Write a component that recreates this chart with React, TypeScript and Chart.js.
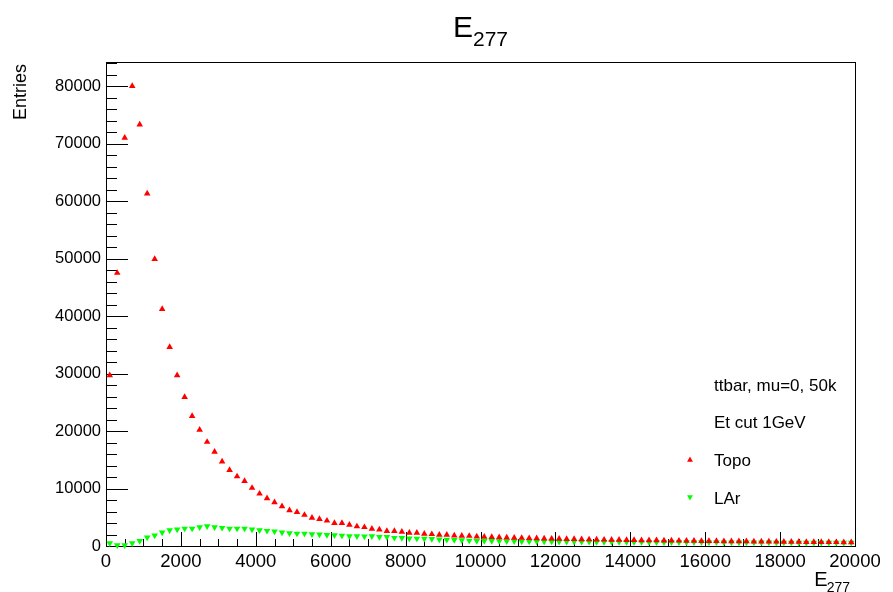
import { useEffect, useRef } from "react";
import { Chart, registerables } from "chart.js";

Chart.register(...registerables);

// ---- data ----
const BIN_WIDTH = 200;
const X_MIN = 0;
const X_MAX = 20000;
const Y_MAX = 84200;

const topoCounts = [
  29700, 47500, 71000, 80000, 73300, 61300, 49900, 41200, 34600, 29700,
  25900, 22600, 20200, 18100, 16400, 14700, 13200, 12100, 11300, 10100,
  9100, 8300, 7600, 6900, 6200, 5900, 5400, 4900, 4700, 4400,
  4000, 4000, 3700, 3400, 3270, 3000, 2870, 2600, 2600, 2470,
  2300, 2300, 2120, 2050, 1950, 1950, 1800, 1770, 1750, 1650,
  1600, 1560, 1500, 1480, 1430, 1400, 1360, 1330, 1300, 1270,
  1240, 1210, 1190, 1160, 1140, 1120, 1100, 1080, 1060, 1040,
  1020, 1000, 990, 970, 950, 940, 920, 900, 890, 870,
  860, 850, 830, 820, 810, 800, 780, 770, 760, 750,
  740, 720, 710, 700, 690, 680, 670, 660, 650, 640,
];

const larCounts = [
  500, 150, 150, 500, 900, 1480, 1830, 2350, 2750, 2870,
  3040, 3040, 3270, 3440, 3270, 3170, 3040, 3040, 3040, 2870,
  2750, 2640, 2520, 2350, 2230, 2170, 2170, 2060, 2000, 1930,
  1880, 1820, 1700, 1700, 1650, 1700, 1590, 1590, 1430, 1400,
  1320, 1300, 1260, 1230, 1150, 1100, 1050, 1000, 950, 900,
  900, 880, 860, 840, 830, 810, 800, 790, 780, 770,
  760, 750, 740, 735, 730, 720, 715, 710, 700, 700,
  690, 690, 680, 680, 670, 670, 660, 660, 650, 650,
  640, 640, 630, 630, 620, 620, 620, 610, 610, 600,
  600, 600, 590, 590, 590, 580, 580, 580, 570, 570,
];

const xTickValues = [0, 2000, 4000, 6000, 8000, 10000, 12000, 14000, 16000, 18000, 20000];
const yTickValues = [0, 10000, 20000, 30000, 40000, 50000, 60000, 70000, 80000];
const X_MINOR_DIVS = 4;
const Y_MINOR_DIVS = 5;

const titleMain = "E";
const titleSub = "277";
const yAxisTitle = "Entries";
const legendNotes = ["ttbar, mu=0, 50k", "Et cut 1GeV"];
const seriesNames = ["Topo", "LAr"];
const seriesColors = ["#ff0000", "#00ff00"];

const FONT = "'Liberation Sans', Arial, Helvetica, sans-serif";

const toPoints = (counts: number[]) =>
  counts.map((v, i) => ({ x: X_MIN + BIN_WIDTH * (i + 0.5), y: v }));

const rootPlugin = {
  id: "rootStyle",
  beforeDatasetsDraw(chart: any) {
    const { ctx, chartArea } = chart;
    const xs = chart.scales.x;
    const ys = chart.scales.y;
    const { left, right, top, bottom } = chartArea;
    ctx.save();
    ctx.strokeStyle = "#000";
    ctx.lineWidth = 1;
    // frame
    ctx.strokeRect(Math.round(left) + 0.5, Math.round(top) + 0.5, Math.round(right - left), Math.round(bottom - top));
    // x ticks
    ctx.beginPath();
    for (let i = 0; i < xTickValues.length; i++) {
      const v = xTickValues[i];
      const px = Math.round(xs.getPixelForValue(v)) + 0.5;
      ctx.moveTo(px, bottom);
      ctx.lineTo(px, bottom - 14);
      if (i < xTickValues.length - 1) {
        const step = (xTickValues[i + 1] - v) / X_MINOR_DIVS;
        for (let k = 1; k < X_MINOR_DIVS; k++) {
          const mx = Math.round(xs.getPixelForValue(v + k * step)) + 0.5;
          ctx.moveTo(mx, bottom);
          ctx.lineTo(mx, bottom - 7);
        }
      }
    }
    // y ticks
    const yStep = (yTickValues[1] - yTickValues[0]) / Y_MINOR_DIVS;
    for (let i = 0; i < yTickValues.length; i++) {
      const v = yTickValues[i];
      const py = Math.round(ys.getPixelForValue(v)) + 0.5;
      ctx.moveTo(left, py);
      ctx.lineTo(left + 22, py);
      for (let k = 1; k < Y_MINOR_DIVS; k++) {
        const mv = v + k * yStep;
        if (mv > Y_MAX) break;
        const my = Math.round(ys.getPixelForValue(mv)) + 0.5;
        ctx.moveTo(left, my);
        ctx.lineTo(left + 11, my);
      }
    }
    ctx.stroke();
    ctx.restore();
  },
  afterDraw(chart: any) {
    const { ctx, chartArea } = chart;
    const { left, right } = chartArea;
    ctx.save();
    ctx.fillStyle = "#000";
    ctx.textBaseline = "alphabetic";
    // main title
    ctx.font = `30px ${FONT}`;
    const wMain = ctx.measureText(titleMain).width;
    ctx.font = `21px ${FONT}`;
    const wSub = ctx.measureText(titleSub).width;
    const cx = (left + right) / 2;
    const startX = cx - (wMain + wSub) / 2;
    ctx.font = `30px ${FONT}`;
    ctx.textAlign = "left";
    ctx.fillText(titleMain, startX, 37);
    ctx.font = `21px ${FONT}`;
    ctx.fillText(titleSub, startX + wMain, 46);

    // x axis title (right aligned)
    ctx.font = `20px ${FONT}`;
    const wxE = ctx.measureText(titleMain).width;
    ctx.font = `14px ${FONT}`;
    const wxS = ctx.measureText(titleSub).width;
    const xEnd = right - 5;
    ctx.font = `20px ${FONT}`;
    ctx.fillText(titleMain, xEnd - wxS - wxE + 1, 586);
    ctx.font = `14px ${FONT}`;
    ctx.fillText(titleSub, xEnd - wxS, 592);

    // y axis title
    ctx.save();
    ctx.translate(26, 64);
    ctx.rotate(-Math.PI / 2);
    ctx.font = `18px ${FONT}`;
    ctx.textAlign = "right";
    ctx.fillText(yAxisTitle, 0, 0);
    ctx.restore();

    // legend
    ctx.font = `17px ${FONT}`;
    ctx.textAlign = "left";
    ctx.fillText(legendNotes[0], 714, 391);
    ctx.fillText(legendNotes[1], 714, 428);
    ctx.fillText(seriesNames[0], 714, 466);
    ctx.fillText(seriesNames[1], 714, 504);
    // legend markers
    const drawTri = (x: number, y: number, r: number, down: boolean, color: string) => {
      ctx.fillStyle = color;
      ctx.beginPath();
      const s = down ? -1 : 1;
      ctx.moveTo(x, y - s * r);
      ctx.lineTo(x + r * 0.866, y + s * r * 0.5);
      ctx.lineTo(x - r * 0.866, y + s * r * 0.5);
      ctx.closePath();
      ctx.fill();
    };
    drawTri(690, 460, 3.4, false, seriesColors[0]);
    drawTri(690, 497, 3.4, true, seriesColors[1]);
    ctx.restore();
  },
};

export default function App() {
  const canvasRef = useRef<HTMLCanvasElement | null>(null);

  useEffect(() => {
    if (!canvasRef.current) return;
    const chart = new Chart(canvasRef.current, {
      type: "scatter",
      data: {
        datasets: [
          {
            label: seriesNames[0],
            data: toPoints(topoCounts),
            pointStyle: "triangle",
            pointRadius: 3.8,
            pointRotation: 0,
            backgroundColor: seriesColors[0],
            borderColor: seriesColors[0],
            borderWidth: 0,
            clip: false,
          } as any,
          {
            label: seriesNames[1],
            data: toPoints(larCounts),
            pointStyle: "triangle",
            pointRadius: 3.8,
            pointRotation: 180,
            backgroundColor: seriesColors[1],
            borderColor: seriesColors[1],
            borderWidth: 0,
            clip: false,
          } as any,
        ],
      },
      options: {
        animation: false,
        responsive: false,
        devicePixelRatio: 1,
        layout: { padding: { left: 0, right: 38, top: 62, bottom: 0 } },
        plugins: { legend: { display: false }, tooltip: { enabled: false }, title: { display: false } },
        scales: {
          x: {
            type: "linear",
            min: X_MIN,
            max: X_MAX,
            grid: { display: false, drawTicks: false },
            border: { display: false },
            afterFit: (s: any) => { s.height = 46; },
            afterBuildTicks: (s: any) => { s.ticks = xTickValues.map((v) => ({ value: v })); },
            ticks: {
              padding: 5,
              maxRotation: 0,
              autoSkip: false,
              color: "#000",
              font: { family: FONT, size: 18.5 },
              callback: (v: any) => String(v),
            },
          },
          y: {
            type: "linear",
            min: 0,
            max: Y_MAX,
            grid: { display: false, drawTicks: false },
            border: { display: false },
            afterFit: (s: any) => { s.width = 106; },
            afterBuildTicks: (s: any) => { s.ticks = yTickValues.map((v) => ({ value: v })); },
            ticks: {
              padding: 5,
              autoSkip: false,
              color: "#000",
              font: { family: FONT, size: 16.5 },
              callback: (v: any) => String(v),
            },
          },
        },
      },
      plugins: [rootPlugin],
    });
    return () => chart.destroy();
  }, []);

  return (
    <div style={{ position: "absolute", left: 0, top: 0, width: 893, height: 592, background: "#fff" }}>
      <canvas ref={canvasRef} width={893} height={592} />
    </div>
  );
}
